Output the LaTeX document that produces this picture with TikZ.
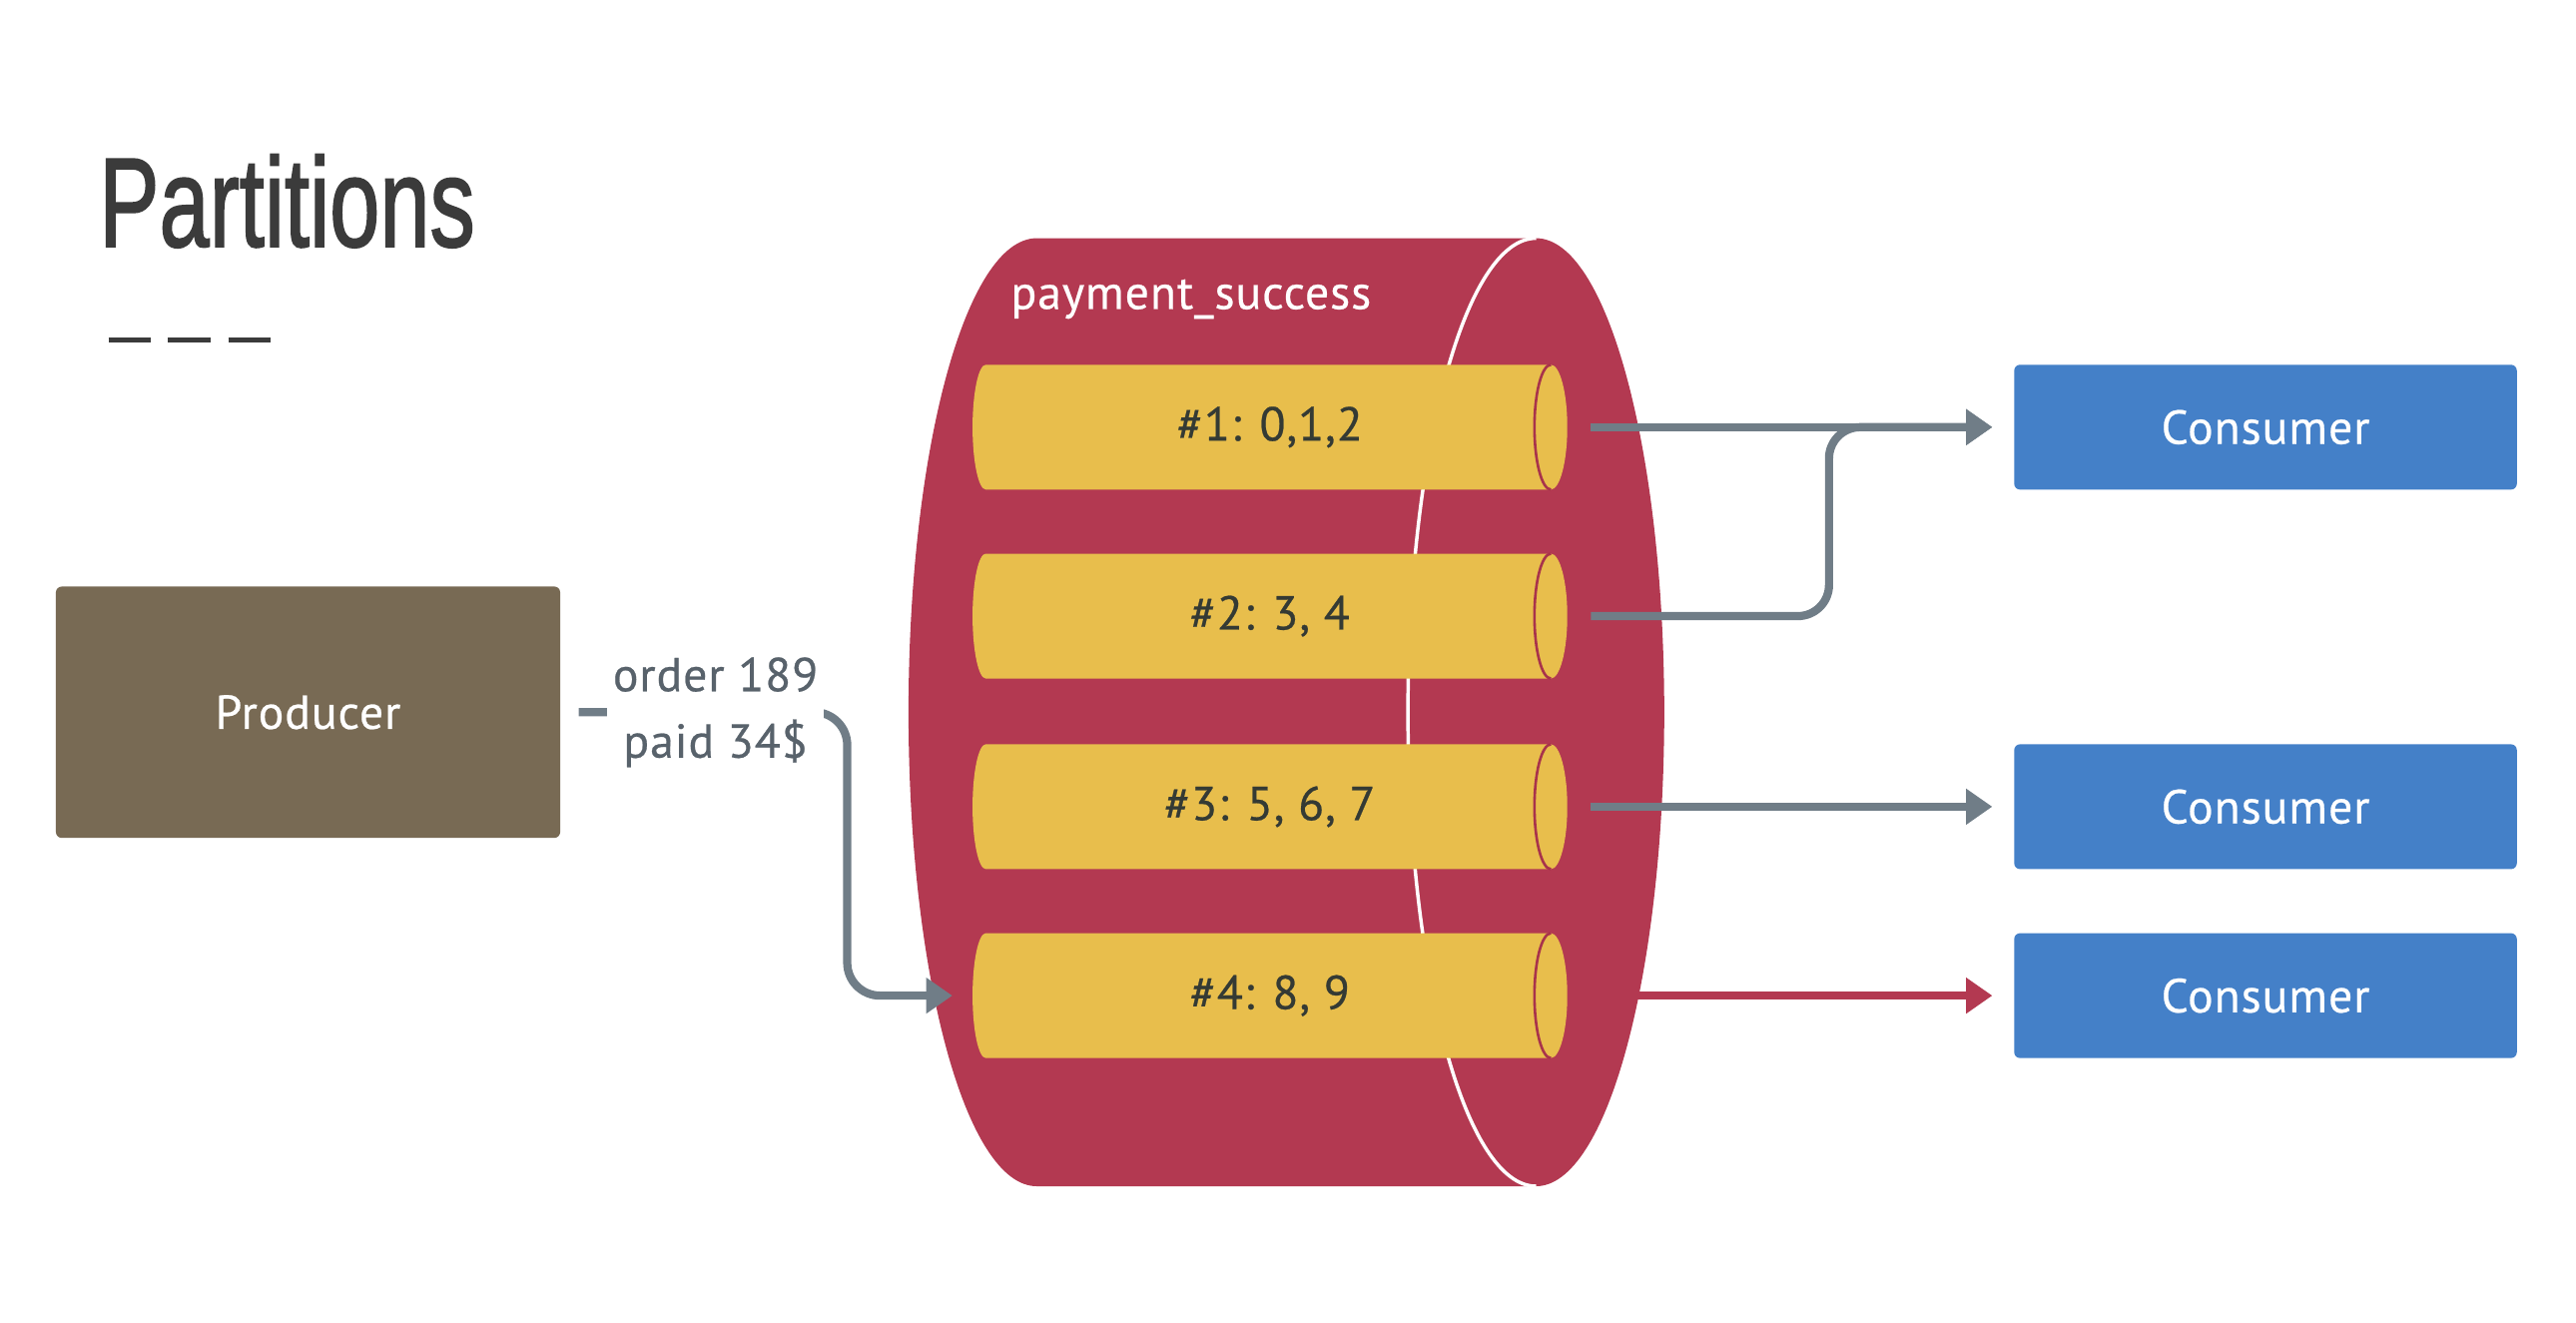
\documentclass[tikz,border=0pt]{standalone}
\usepackage{graphicx}
\usepackage{fontspec}
\setmainfont[FakeBold=0.5,LetterSpace=2]{PT Sans}
\newfontfamily\titlefont[FakeBold=1.6]{Liberation Sans}
\usetikzlibrary{arrows.meta}

\definecolor{topicred}{HTML}{B33951}
\definecolor{partyellow}{HTML}{E8BE4C}
\definecolor{partedge}{HTML}{A8334B}
\definecolor{consumerblue}{HTML}{4480C8}
\definecolor{producerbrown}{HTML}{786A54}
\definecolor{flowgray}{HTML}{707D87}
\definecolor{labelgray}{HTML}{58626B}
\definecolor{titlegray}{HTML}{3B3B3B}
\definecolor{parttext}{HTML}{343A34}

\tikzset{
  flow/.style={draw=flowgray,line width=0.1cm,
    -{Triangle[width=0.42cm,length=0.32cm]},
    shorten <=0.28cm,shorten >=0.26cm},
  txt/.style={font=\fontsize{16.5}{23}\selectfont},
  part/.style={txt,text=parttext,minimum width=7.24cm,minimum height=1.52cm,inner sep=0}
}

\begin{document}
\begin{tikzpicture}[x=0.02cm,y=-0.02cm]
  \useasboundingbox (0,0) rectangle (1568,805);

  % heading
  \node[anchor=base west,inner sep=0,text=titlegray] (title) at (60,150)
    {\titlefont\fontsize{44}{48}\selectfont\scalebox{0.71}[1]{Partitions}};
  \foreach \x in {66,102,139}
    \draw[titlegray,line width=0.06cm] (\x,207) -- ++(26,0);

  \node[txt,fill=producerbrown,text=white,rounded corners=2pt,
        minimum width=6.14cm,minimum height=3.06cm] (producer) at (187.5,433.5) {Producer};

  % the topic, a can lying on its side
  \fill[topicred] (631,145) -- (935,145)
    arc[start angle=-90,end angle=90,x radius=78,y radius=288.5]
    -- (631,722) arc[start angle=90,end angle=270,x radius=78,y radius=288.5] -- cycle;
  \draw[white,line width=1.2pt] (935,145)
    arc[start angle=270,end angle=90,x radius=78,y radius=288.5];
  \node[txt,anchor=west,text=white,inner sep=0] (topic) at (615,182) {payment\_success};

  % partitions
  \foreach \i/\y/\t in {1/260/{\#1: 0,1,2},2/375/{\#2: 3, 4},3/491/{\#3: 5, 6, 7},4/606/{\#4: 8, 9}} {
    \fill[partyellow] (600,\y-38) -- (944,\y-38)
      arc[start angle=-90,end angle=90,x radius=10,y radius=38]
      -- (600,\y+38) arc[start angle=90,end angle=270,x radius=8,y radius=38] -- cycle;
    \draw[partedge,line width=0.9pt] (944,\y-38)
      arc[start angle=270,end angle=90,x radius=10,y radius=38];
    \node[part] (p\i) at (773,\y) {\t};
  }

  \begin{scope}[every node/.style={txt,fill=consumerblue,text=white,rounded corners=2pt,
      minimum width=6.12cm,minimum height=1.52cm}]
    \node (c1) at (1379,260) {Consumer};
    \node (c2) at (1379,491) {Consumer};
    \node (c3) at (1379,606) {Consumer};
  \end{scope}

  \begin{scope}[every edge/.style={flow}]
    \path (p1) edge (c1);
    \path (p3) edge (c2);
    \path (p4) edge[draw=topicred] (c3);
  \end{scope}
  \draw[flow,rounded corners=0.38cm] (p2.east) -- ++(159,0) |- (c1);

  \draw[flow,shorten <=0.22cm,shorten >=0.24cm,rounded corners=0.4cm]
    (producer) -| ([xshift=-1.52cm]p4.west)
    node[txt,pos=0.27,fill=white,text=labelgray,align=center,inner sep=2pt,sharp corners] (msg)
      {order 189\\paid 34\$}
    -- (p4);

\end{tikzpicture}
\end{document}
